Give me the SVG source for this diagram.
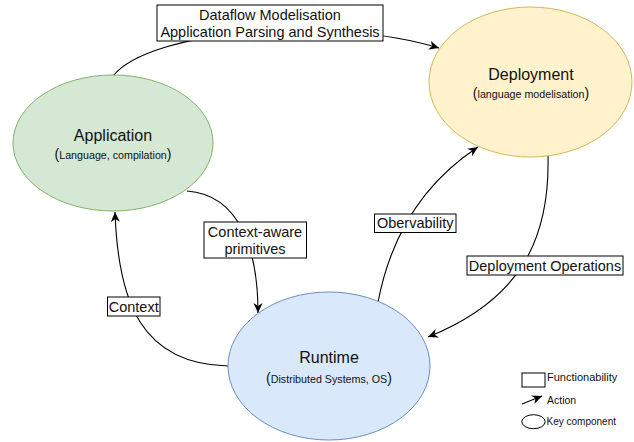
<svg xmlns="http://www.w3.org/2000/svg" width="634" height="442" viewBox="0 0 634 442">
<style>
text { font-family: "Liberation Sans", Arial, Helvetica, sans-serif; fill: #111; }
.title { font-size: 16px; text-anchor: middle; }
.sub { text-anchor: middle; }
.par { font-size: 14px; }
.small { font-size: 10.7px; }
.edge { fill: none; stroke: #000; stroke-width: 1.1; }
.lblbox { fill: #fff; stroke: #000; stroke-width: 1; }
.lbl { font-size: 14.5px; text-anchor: middle; dominant-baseline: central; }
.leg { font-size: 10.5px; }
</style>
<defs>
<marker id="arr" viewBox="0 0 10 10" refX="10" refY="5" markerWidth="10" markerHeight="10" markerUnits="userSpaceOnUse" orient="auto">
<path d="M0,0.5 L10,5 L0,9.5 L3,5 z" fill="#000"/>
</marker>
</defs>
<rect width="634" height="442" fill="#fff"/>

<g id="connectors">
<path class="edge" d="M113,76 C150,30 330,15 439,48" marker-end="url(#arr)"/>
<path class="edge" d="M187,191 C240,195 258,250 258,313" marker-end="url(#arr)"/>
<path class="edge" d="M228,366 C140,364 118,300 115,212" marker-end="url(#arr)"/>
<path class="edge" d="M378,302 C390,240 420,185 478,147" marker-end="url(#arr)"/>
<path class="edge" d="M548,156 C550,240 520,300 428,337" marker-end="url(#arr)"/>
</g>

<g id="application">
<ellipse cx="113" cy="143" rx="100" ry="68" fill="#d5e8d4" stroke="#82b366" stroke-width="1"/>
<text class="title" x="113" y="140.5">Application</text>
<text class="sub" x="113" y="159"><tspan class="par">(</tspan><tspan class="small">Language, compilation</tspan><tspan class="par">)</tspan></text>
</g>

<g id="deployment">
<ellipse cx="530.5" cy="82" rx="101.5" ry="75" fill="#fff2cc" stroke="#d6b656" stroke-width="1"/>
<text class="title" x="531" y="80">Deployment</text>
<text class="sub" x="531" y="98"><tspan class="par">(</tspan><tspan class="small">language modelisation</tspan><tspan class="par">)</tspan></text>
</g>

<g id="runtime">
<ellipse cx="329" cy="366" rx="101" ry="74" fill="#dae8fc" stroke="#6c8ebf" stroke-width="1"/>
<text class="title" x="329" y="363">Runtime</text>
<text class="sub" x="329" y="382.5"><tspan class="par">(</tspan><tspan class="small">Distributed Systems, OS</tspan><tspan class="par">)</tspan></text>
</g>

<g id="label-dataflow">
<rect class="lblbox" x="157" y="5" width="226" height="36"/>
<text class="lbl" x="270" y="14.5">Dataflow Modelisation</text>
<text class="lbl" x="270" y="31.5">Application Parsing and Synthesis</text>
</g>

<g id="label-context-aware">
<rect class="lblbox" x="204" y="222" width="102.5" height="36"/>
<text class="lbl" x="255" y="231.5">Context-aware</text>
<text class="lbl" x="255" y="249">primitives</text>
</g>

<g id="label-context">
<rect class="lblbox" x="107.5" y="297" width="52.5" height="19"/>
<text class="lbl" x="133.7" y="306.5">Context</text>
</g>

<g id="label-observability">
<rect class="lblbox" x="374.5" y="214" width="81.5" height="18.5"/>
<text class="lbl" x="415.2" y="223.2">Obervability</text>
</g>

<g id="label-deployment-ops">
<rect class="lblbox" x="467" y="256" width="156" height="19"/>
<text class="lbl" x="545" y="265.5">Deployment Operations</text>
</g>

<g id="legend">
<rect x="522" y="373" width="23" height="14" fill="#fff" stroke="#000" stroke-width="1"/>
<text class="leg" x="547" y="381" style="font-size:11px">Functionability</text>
<path class="edge" d="M522,404 L542,396" marker-end="url(#arr)"/>
<text class="leg" x="547" y="404">Action</text>
<ellipse cx="533.5" cy="421.7" rx="11.7" ry="7" fill="#fff" stroke="#000" stroke-width="1"/>
<text class="leg" x="546.5" y="424.5" style="font-size:10px">Key component</text>
</g>
</svg>
